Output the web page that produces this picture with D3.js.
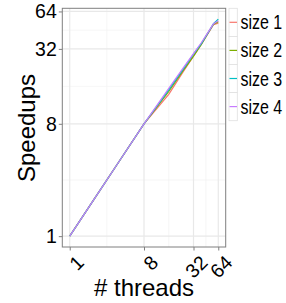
<!DOCTYPE html>
<html>
<head>
<meta charset="utf-8">
<script src="https://cdn.jsdelivr.net/npm/d3@7"></script>
<style>
  body { margin: 0; background: #fff; }
  text { font-family: "Liberation Sans", Arial, sans-serif; }
</style>
</head>
<body>
<svg id="chart" width="286" height="303"></svg>
<script>
// thread counts and speedups per problem size
let threads = [1, 2, 4, 8, 16, 24, 32, 40, 48, 56, 64];
let size1 = [1, 2, 4, 8, 13.8, 21, 28, 35, 42.5, 50, 51.5];
let size2 = [1, 2, 4, 8, 14.6, 21.5, 28, 35, 43, 50.5, 53];
let size3 = [1, 2, 4, 8, 15, 22, 29, 35.5, 43, 51, 55.5];
let size4 = [1, 2, 4, 8, 15.4, 22.5, 29.3, 36, 43.5, 51, 54];
let seriesNames = ["size 1", "size 2", "size 3", "size 4"];
let colors = ["#F8766D", "#7CAE00", "#00BFC4", "#C77CFF"];
let xTicks = [1, 8, 32, 64];
let yTicks = [1, 8, 32, 64];

window.onload = function () {
    var svg = d3.select("#chart");
    var allSeries = [size1, size2, size3, size4];
    var left = 62.3, right = 225.7, top = 8.3, bottom = 247;

    // ggplot-style 5% expansion in log space
    var lx = d3.extent(threads).map(Math.log2),
        ly = d3.extent(d3.merge(allSeries)).map(Math.log2);
    var ex = (lx[1] - lx[0]) * 0.05, ey = (ly[1] - ly[0]) * 0.05;
    var xScale = d3.scaleLog().base(2).domain([Math.pow(2, lx[0] - ex), Math.pow(2, lx[1] + ex)]).range([left, right]),
        yScale = d3.scaleLog().base(2).domain([Math.pow(2, ly[0] - ey), Math.pow(2, ly[1] + ey)]).range([bottom, top]);

    // minor breaks halfway between majors (log space)
    function minors(t) {
        var m = [];
        for (var i = 0; i < t.length - 1; i++) m.push(Math.pow(2, (Math.log2(t[i]) + Math.log2(t[i + 1])) / 2));
        return m;
    }

    var grid = svg.append("g");
    grid.selectAll(".mx").data(minors(xTicks)).enter().append("line")
        .attr("x1", d => xScale(d)).attr("x2", d => xScale(d)).attr("y1", top).attr("y2", bottom)
        .attr("stroke", "#f2f2f2").attr("stroke-width", 0.7);
    grid.selectAll(".my").data(minors(yTicks)).enter().append("line")
        .attr("y1", d => yScale(d)).attr("y2", d => yScale(d)).attr("x1", left).attr("x2", right)
        .attr("stroke", "#f2f2f2").attr("stroke-width", 0.7);
    grid.selectAll(".gx").data(xTicks).enter().append("line")
        .attr("x1", d => xScale(d)).attr("x2", d => xScale(d)).attr("y1", top).attr("y2", bottom)
        .attr("stroke", "#e8e8e8").attr("stroke-width", 1.2);
    grid.selectAll(".gy").data(yTicks).enter().append("line")
        .attr("y1", d => yScale(d)).attr("y2", d => yScale(d)).attr("x1", left).attr("x2", right)
        .attr("stroke", "#e8e8e8").attr("stroke-width", 1.2);

    var line = d3.line().x((d, i) => xScale(threads[i])).y(d => yScale(d));
    svg.selectAll(".series").data(allSeries).enter().append("path")
        .attr("d", d => line(d)).attr("fill", "none")
        .attr("stroke", (d, i) => colors[i]).attr("stroke-width", 1.2);

    svg.append("rect").attr("x", left).attr("y", top).attr("width", right - left).attr("height", bottom - top)
        .attr("fill", "none").attr("stroke", "#7f7f7f").attr("stroke-width", 1);

    // axes
    var yAxis = svg.append("g").attr("transform", "translate(" + left + ",0)")
        .call(d3.axisLeft(yScale).tickValues(yTicks).tickFormat(d => d).tickSize(3.5).tickPadding(2));
    yAxis.select(".domain").remove();
    yAxis.selectAll("line").attr("stroke", "#7f7f7f");
    yAxis.selectAll("text").attr("font-size", "19.5px").attr("fill", "#000").attr("font-family", "Liberation Sans");

    var xAxis = svg.append("g").attr("transform", "translate(0," + bottom + ")")
        .call(d3.axisBottom(xScale).tickValues(xTicks).tickFormat(d => d).tickSize(3.5).tickPadding(2));
    xAxis.select(".domain").remove();
    xAxis.selectAll("line").attr("stroke", "#7f7f7f");
    xAxis.selectAll("text").attr("font-size", "19.5px").attr("fill", "#000").attr("font-family", "Liberation Sans")
        .attr("text-anchor", "end").attr("dy", "0.35em").attr("y", 0)
        .attr("transform", "translate(10,12) rotate(-45)");

    svg.append("text").attr("x", (left + right) / 2).attr("y", 296).attr("text-anchor", "middle")
        .attr("font-size", "24px").text("# threads");
    svg.append("text").attr("transform", "translate(35,128) rotate(-90)").attr("text-anchor", "middle")
        .attr("font-size", "24px").text("Speedups");

    // legend
    var lg = svg.append("g").attr("transform", "translate(229,8.3)");
    var rows = lg.selectAll(".key").data(seriesNames).enter().append("g")
        .attr("transform", (d, i) => "translate(0," + i * 28.1 + ")");
    rows.append("rect").attr("width", 8.3).attr("height", 28.1).attr("fill", "#fff")
        .attr("stroke", "#e0e0e0").attr("stroke-width", 0.8);
    rows.append("line").attr("x1", 0.5).attr("x2", 8).attr("y1", 14).attr("y2", 14)
        .attr("stroke", (d, i) => colors[i]).attr("stroke-width", 1.2);
    // labels are narrow in the original, squeeze horizontally
    rows.append("text").attr("transform", "translate(11.5,14) scale(0.82,1)").attr("dy", "0.36em")
        .attr("font-size", "19.5px").text(d => d);
};
</script>
</body>
</html>
